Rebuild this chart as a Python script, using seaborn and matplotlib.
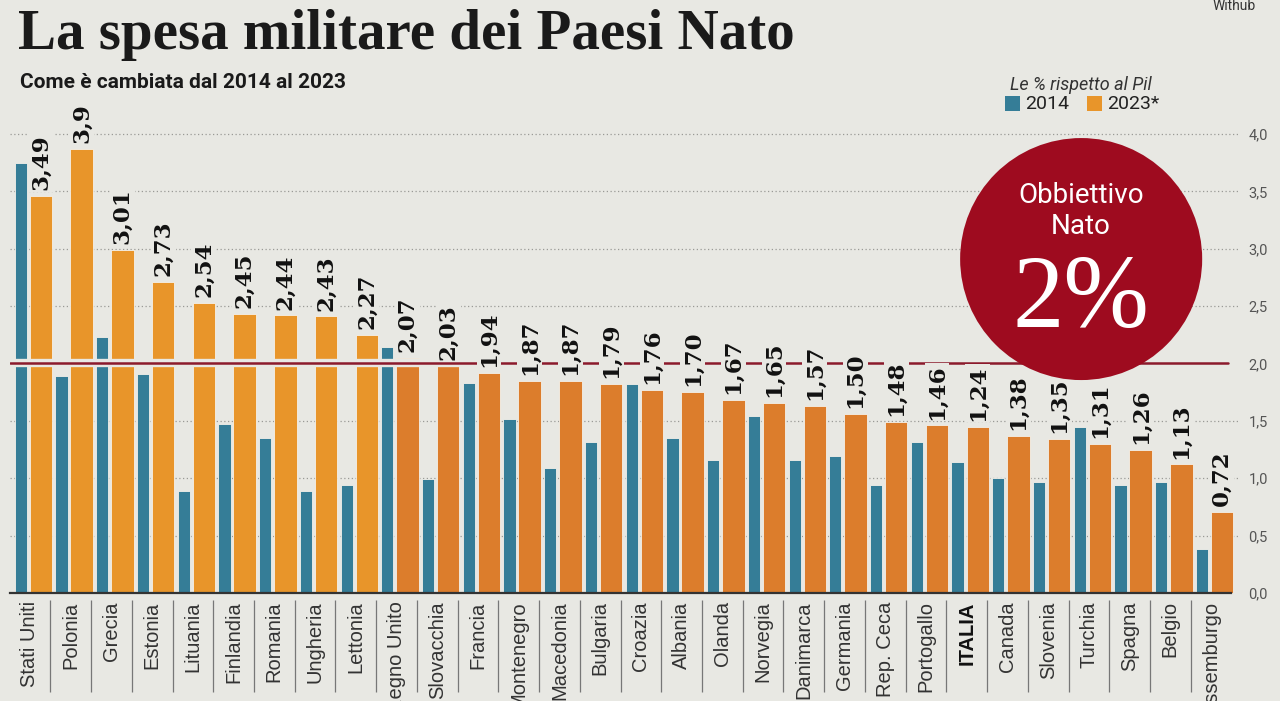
import matplotlib
matplotlib.use("Agg")
import matplotlib.pyplot as plt
from matplotlib.patches import Ellipse, Rectangle
import numpy as np
import pandas as pd
import seaborn as sns

countries = ["Stati Uniti", "Polonia", "Grecia", "Estonia", "Lituania", "Finlandia",
             "Romania", "Ungheria", "Lettonia", "Regno Unito", "Slovacchia", "Francia",
             "Montenegro", "Macedonia", "Bulgaria", "Croazia", "Albania", "Olanda",
             "Norvegia", "Danimarca", "Germania", "Rep. Ceca", "Portogallo", "ITALIA",
             "Canada", "Slovenia", "Turchia", "Spagna", "Belgio", "Lussemburgo"]
spesa_2014 = [3.75, 1.89, 2.23, 1.91, 0.89, 1.47, 1.35, 0.89, 0.94, 2.14, 0.99, 1.83,
              1.52, 1.09, 1.32, 1.82, 1.35, 1.16, 1.54, 1.16, 1.19, 0.94, 1.32, 1.14,
              1.00, 0.97, 1.45, 0.94, 0.97, 0.38]
spesa_2023 = [3.46, 3.87, 2.99, 2.71, 2.53, 2.43, 2.42, 2.41, 2.25, 2.05, 1.98, 1.92,
              1.85, 1.85, 1.82, 1.77, 1.75, 1.68, 1.66, 1.63, 1.56, 1.49, 1.46, 1.45,
              1.37, 1.34, 1.30, 1.25, 1.12, 0.71]
labels_2023 = ["3,49", "3,9", "3,01", "2,73", "2,54", "2,45", "2,44", "2,43", "2,27",
               "2,07", "2,03", "1,94", "1,87", "1,87", "1,79", "1,76", "1,70", "1,67",
               "1,65", "1,57", "1,50", "1,48", "1,46", "1,24", "1,38", "1,35", "1,31",
               "1,26", "1,13", "0,72"]
yticks = [0.0, 0.5, 1.0, 1.5, 2.0, 2.5, 3.0, 3.5, 4.0]
obiettivo = 2.0

BG = "#E8E8E3"
BLUE = "#357D97"
ORANGE_L = "#E8952A"
ORANGE_D = "#DC7D2C"
RED = "#8B1A2C"
CIRCLE = "#9E0B1F"

sns.set_theme(style="white")
plt.rcParams["font.family"] = ["Liberation Sans", "DejaVu Sans"]

fig = plt.figure(figsize=(12.8, 7.01), dpi=100, facecolor=BG)
ax = fig.add_axes([10/1280, 1-593/701, 1230/1280, (593-122.5)/701])
ax.set_facecolor(BG)

n = len(countries)
idx = np.arange(n)
df = pd.DataFrame({
    "paese": countries,
    "pos14": idx - 0.225,
    "pos23": idx + 0.27,
    "v14": spesa_2014,
    "v23": spesa_2023,
    "tono": ["chiaro" if i < 9 else "scuro" for i in idx],
})

sns.barplot(data=df, x="pos14", y="v14", native_scale=True, width=0.3,
            color=BLUE, saturation=1, errorbar=None, ax=ax,
            edgecolor="#F4F1EA", linewidth=0.6, zorder=3)
sns.barplot(data=df, x="pos23", y="v23", hue="tono", native_scale=True, width=0.55,
            palette={"chiaro": ORANGE_L, "scuro": ORANGE_D}, saturation=1,
            dodge=False, errorbar=None, legend=False, ax=ax,
            edgecolor="#F4F1EA", linewidth=0.6, zorder=3)

ax.set_xlim(-0.49, 29.71)
ax.set_ylim(0, 4.1)
ax.set_xlabel("")
ax.set_ylabel("")

# grid
for t in yticks[1:]:
    if t == obiettivo:
        continue
    ax.axhline(t, color="#9a9a96", lw=0.9, ls=(0, (1, 2)), zorder=1)

# 2% line with background halo
ax.axhline(obiettivo, xmax=0.99, color=BG, lw=6, zorder=4)
ax.axhline(obiettivo, xmax=0.99, color=RED, lw=1.8, zorder=5)

# spines / ticks
for s in ["top", "left", "right"]:
    ax.spines[s].set_visible(False)
ax.spines["bottom"].set_color("#333333")
ax.spines["bottom"].set_linewidth(1.6)
ax.spines["bottom"].set_bounds(-0.49, 29.5)
ax.spines["bottom"].set_zorder(6)

ax.yaxis.tick_right()
ax.set_yticks(yticks)
ax.set_yticklabels([f"{t:.1f}".replace(".", ",") for t in yticks],
                   fontsize=10.5, color="#555555", family=["Roboto", "DejaVu Sans"])
ax.tick_params(axis="y", length=0, pad=6)

ax.set_xticks(idx)
ax.set_xticklabels(countries, rotation=90, fontsize=14.5, color="#333333", va="top", ha="center")
ax.tick_params(axis="x", length=0, pad=6)
for lab in ax.get_xticklabels():
    if lab.get_text() == "ITALIA":
        lab.set_fontweight("bold")
        lab.set_color("#111111")

# separators below axis
ax.vlines(idx[:-1] + 0.5, -0.06, -0.86, color="#777777", lw=0.9, clip_on=False)

# value labels
for i in idx:
    ax.text(i + 0.27, spesa_2023[i] + 0.05, labels_2023[i], rotation=90,
            ha="center", va="bottom", fontsize=16.5, fontweight="bold",
            family=["DejaVu Serif"], color="#111111", zorder=7,
            bbox=dict(facecolor=BG, edgecolor="none", pad=1.0))

# Obbiettivo circle
cx, cy = 25.81, 2.91
ax.add_patch(Ellipse((cx, cy), 242/40.72, 242/114.75, facecolor=CIRCLE,
                     edgecolor="none", zorder=8, clip_on=False))
ax.text(cx, cy + 0.55, "Obbiettivo", ha="center", va="center", fontsize=20,
        color="white", family=["Roboto", "DejaVu Sans"], zorder=9)
ax.text(cx, cy + 0.28, "Nato", ha="center", va="center", fontsize=20,
        color="white", family=["Roboto", "DejaVu Sans"], zorder=9)
ax.text(cx, cy - 0.37, "2%", ha="center", va="center", fontsize=74,
        color="white", family=["Liberation Serif", "DejaVu Serif"], zorder=9)

# titles
fig.text(18/1280, 1-35/701, "La spesa militare dei Paesi Nato", ha="left", va="center",
         fontsize=41, fontweight="bold", family=["Liberation Serif", "DejaVu Serif"],
         color="#1a1a1a")
fig.text(20/1280, 1-82/701, "Come è cambiata dal 2014 al 2023", ha="left", va="center",
         fontsize=15, fontweight="bold", family=["Roboto", "DejaVu Sans"], color="#1a1a1a")
fig.text(1256/1280, 1-6/701, "Withub", ha="right", va="center", fontsize=10,
         color="#333333", family=["Roboto", "DejaVu Sans"])

# legend
fig.text(1081/1280, 1-85/701, "Le % rispetto al Pil", ha="center", va="center",
         fontsize=13, style="italic", color="#333333", family=["Roboto", "DejaVu Sans"])
fig.patches.append(Rectangle((1005/1280, 1-111/701), 15/1280, 15/701,
                             transform=fig.transFigure, facecolor=BLUE, edgecolor="none"))
fig.text(1025/1280, 1-104/701, "2014", ha="left", va="center", fontsize=14,
         color="#222222", family=["Roboto", "DejaVu Sans"])
fig.patches.append(Rectangle((1087/1280, 1-111/701), 15/1280, 15/701,
                             transform=fig.transFigure, facecolor=ORANGE_L, edgecolor="none"))
fig.text(1107/1280, 1-104/701, "2023*", ha="left", va="center", fontsize=14,
         color="#222222", family=["Roboto", "DejaVu Sans"])

fig.savefig("out.png", dpi=100, facecolor=BG)
